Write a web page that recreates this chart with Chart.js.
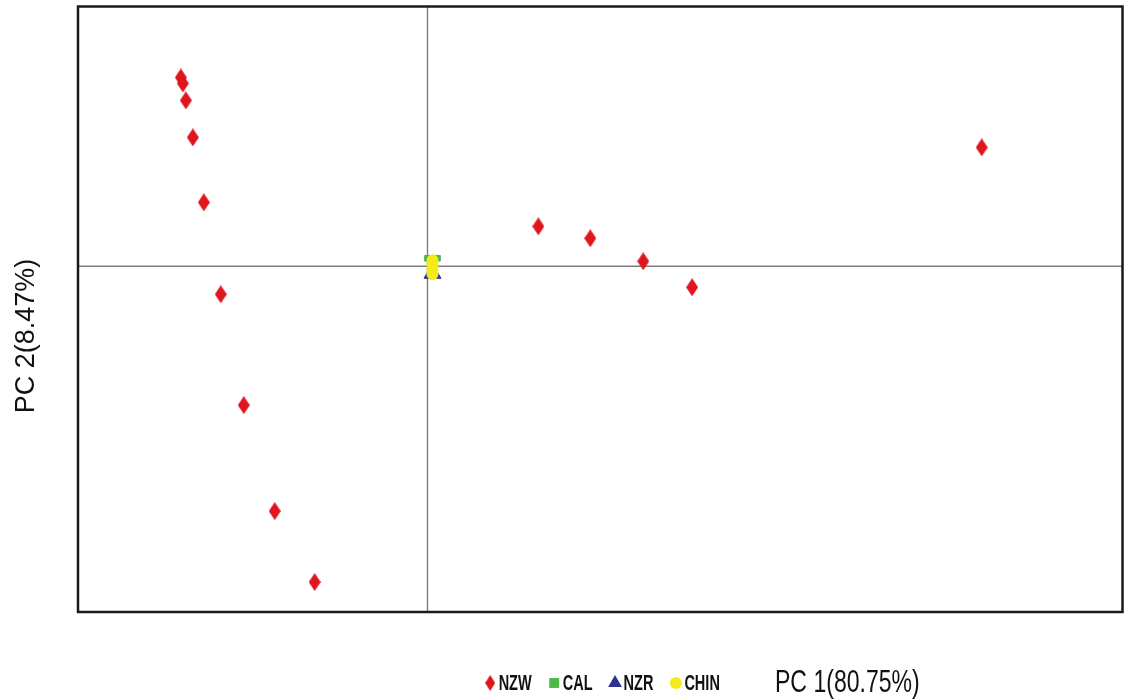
<!DOCTYPE html>
<html>
<head>
<meta charset="utf-8">
<script src="https://cdn.jsdelivr.net/npm/chart.js@4.4.1/dist/chart.umd.min.js"></script>
<style>
  body { margin: 0; background: #fff; }
  #wrap { width: 1129px; height: 700px; }
</style>
</head>
<body>
<div id="wrap"><canvas id="pca"></canvas></div>
<script>
// PC scores (arbitrary units, origin at the cross lines)
const nzwX = [-2.47, -2.45, -2.42, -2.35, -2.24, -2.07, -1.84, -1.53, -1.13, 1.11, 1.63, 2.16, 2.65, 5.55];
const nzwY = [1.89, 1.83, 1.66, 1.29, 0.64, -0.28, -1.39, -2.45, -3.16, 0.40, 0.28, 0.05, -0.21, 1.19];
const calX = [0.0, 0.1];
const calY = [0.08, 0.08];
const nzrX = [0.0, 0.1];
const nzrY = [-0.1, -0.1];
const chinX = [0.05, 0.05, 0.05, 0.05];
const chinY = [0.06, 0.01, -0.04, -0.08];
const seriesNames = ['NZW', 'CAL', 'NZR', 'CHIN'];
const xTitle = 'PC 1(80.75%)';
const yTitle = 'PC 2(8.47%)';

function pts(xs, ys) {
    return xs.map((x, i) => ({ x: x, y: ys[i] }));
}

// tall diamond like the original markers
function diamond(w, h, col) {
    const c = document.createElement('canvas');
    c.width = w; c.height = h;
    const g = c.getContext('2d');
    g.fillStyle = col;
    g.beginPath();
    g.moveTo(w / 2, 0);
    g.lineTo(w, h / 2);
    g.lineTo(w / 2, h);
    g.lineTo(0, h / 2);
    g.closePath();
    g.fill();
    return c;
}
const red = '#e0161e';
const bigDiamond = diamond(12, 18, red);
const keyDiamond = diamond(10, 16, red);

// squeezed text, the original is horizontally compressed
function narrowText(ctx, txt, x, y, font, sx) {
    ctx.save();
    ctx.font = font;
    ctx.translate(x, y);
    ctx.scale(sx, 1);
    ctx.fillText(txt, 0, 0);
    const w = ctx.measureText(txt).width * sx;
    ctx.restore();
    return w;
}

const frame = {
    id: 'frame',
    beforeDatasetsDraw(chart) {
        const { ctx, chartArea: a, scales } = chart;
        const x0 = scales.x.getPixelForValue(0);
        const y0 = scales.y.getPixelForValue(0);
        ctx.save();
        ctx.strokeStyle = '#7d7d7d';
        ctx.lineWidth = 1.4;
        ctx.beginPath();
        ctx.moveTo(x0, a.top); ctx.lineTo(x0, a.bottom);
        ctx.moveTo(a.left, y0); ctx.lineTo(a.right, y0);
        ctx.stroke();
        ctx.restore();
    },
    afterDraw(chart) {
        const { ctx, chartArea: a } = chart;
        ctx.save();
        ctx.strokeStyle = '#1a1a1a';
        ctx.lineWidth = 2.5;
        ctx.strokeRect(a.left, a.top, a.right - a.left, a.bottom - a.top);

        // legend row
        const rowY = 683;
        ctx.fillStyle = '#111';
        ctx.textBaseline = 'middle';
        const sx = 0.66;
        const keyFont = 'bold 22px "Liberation Sans", Arial';
        ctx.font = keyFont;
        const ds = chart.data.datasets;
        let total = 0;
        ds.forEach((d, i) => {
            total += 14 + ctx.measureText(d.label).width * sx + (i < ds.length - 1 ? 17 : 0);
        });
        let x = (a.left + a.right) / 2 + 2 - total / 2;
        const styles = [keyDiamond, 'rect', 'triangle', 'circle'];
        const radii = [8, 7, 8, 6];
        ds.forEach((d, i) => {
            ctx.fillStyle = d.backgroundColor;
            ctx.strokeStyle = d.backgroundColor;
            Chart.helpers.drawPoint(ctx, { pointStyle: styles[i], radius: radii[i], rotation: 0, borderWidth: 0 }, x + 5.5, rowY);
            ctx.fillStyle = '#111';
            const w = narrowText(ctx, d.label, x + 14, rowY + 1, keyFont, sx);
            x += 14 + w + 17;
        });

        // axis titles
        ctx.fillStyle = '#111';
        narrowText(ctx, xTitle, 775, rowY, '32px "Liberation Sans", Arial', 0.72);
        ctx.translate(27, 336);
        ctx.rotate(-Math.PI / 2);
        ctx.textAlign = 'center';
        ctx.font = '27px "Liberation Sans", Arial';
        ctx.fillText(yTitle, 0, 0);
        ctx.restore();
    }
};

new Chart(document.getElementById('pca'), {
    type: 'scatter',
    data: {
        datasets: [
            {
                label: seriesNames[0],
                data: pts(nzwX, nzwY),
                pointStyle: bigDiamond,
                backgroundColor: red,
                borderColor: red,
                order: 1
            },
            {
                label: seriesNames[1],
                data: pts(calX, calY),
                pointStyle: 'rect',
                pointRadius: 4,
                backgroundColor: '#4db848',
                borderColor: '#4db848',
                order: 1
            },
            {
                label: seriesNames[2],
                data: pts(nzrX, nzrY),
                pointStyle: 'triangle',
                pointRadius: 4,
                backgroundColor: '#2e3192',
                borderColor: '#2e3192',
                order: 1
            },
            {
                label: seriesNames[3],
                data: pts(chinX, chinY),
                pointStyle: 'circle',
                pointRadius: 5.5,
                backgroundColor: '#f4ec1a',
                borderColor: '#f4ec1a',
                order: 0
            }
        ]
    },
    options: {
        responsive: true,
        maintainAspectRatio: false,
        animation: false,
        layout: { padding: { left: 78, right: 5, top: 6, bottom: 88 } },
        scales: {
            x: { display: false, min: -3.5, max: 6.96 },
            y: { display: false, min: -3.46, max: 2.6 }
        },
        plugins: {
            legend: { display: false },
            tooltip: { enabled: false }
        }
    },
    plugins: [frame]
});
</script>
</body>
</html>
